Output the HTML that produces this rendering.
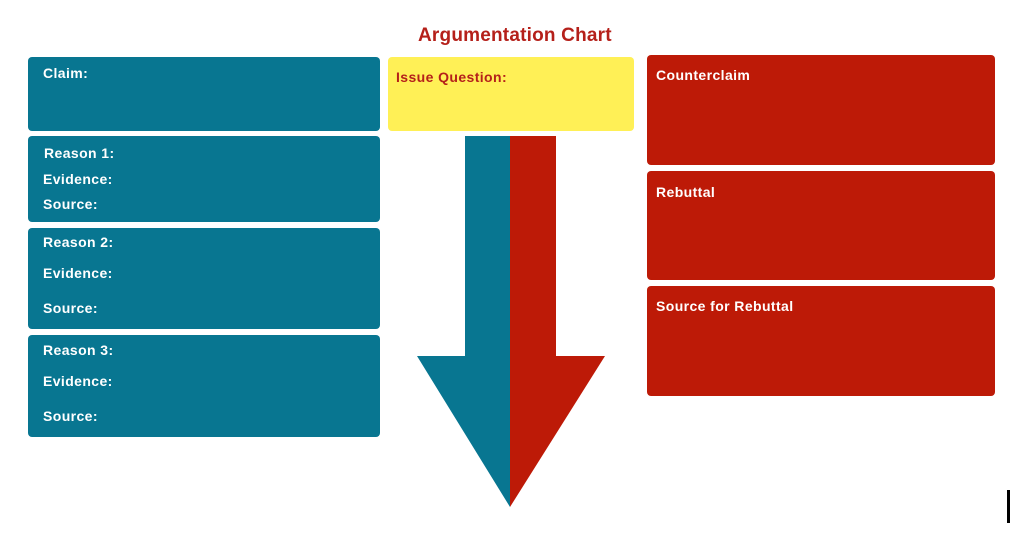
<!DOCTYPE html>
<html><head><style>
body{margin:0;width:1010px;height:541px;background:#fff;position:relative;overflow:hidden;font-family:"Liberation Sans",sans-serif;font-weight:bold}
.b{position:absolute;border-radius:4px}
.bl{background:#087691}
.rd{background:#bd1a07}
.t{position:absolute;font-size:14px;letter-spacing:0.4px;color:#fff;white-space:nowrap;line-height:1}
</style></head><body>
<div class="t" style="left:418px;top:26px;font-size:19px;letter-spacing:0.2px;color:#b5201a">Argumentation Chart</div>
<div class="b bl" style="left:28px;top:57px;width:352px;height:74px"></div>
<div class="b bl" style="left:28px;top:136px;width:352px;height:86px"></div>
<div class="b bl" style="left:28px;top:228px;width:352px;height:101px"></div>
<div class="b bl" style="left:28px;top:335px;width:352px;height:102px"></div>
<div class="b" style="left:388px;top:57px;width:246px;height:74px;background:#fff056"></div>
<div class="b rd" style="left:647px;top:55px;width:348px;height:110px"></div>
<div class="b rd" style="left:647px;top:171px;width:348px;height:109px"></div>
<div class="b rd" style="left:647px;top:286px;width:348px;height:110px"></div>
<svg style="position:absolute;left:0;top:0" width="1010" height="541">
<polygon points="465,136 510,136 510,507 417,356 465,356" fill="#087691"/>
<polygon points="510,136 556,136 556,356 605,356 510,507" fill="#bd1a07"/>
<rect x="1007" y="490" width="3" height="33" fill="#000"/>
</svg>
<div class="t" style="left:43px;top:66px">Claim:</div>
<div class="t" style="left:396px;top:70px;color:#b5201a">Issue Question:</div>
<div class="t" style="left:44px;top:146px">Reason 1:</div>
<div class="t" style="left:43px;top:172px">Evidence:</div>
<div class="t" style="left:43px;top:197px">Source:</div>
<div class="t" style="left:43px;top:235px">Reason 2:</div>
<div class="t" style="left:43px;top:266px">Evidence:</div>
<div class="t" style="left:43px;top:301px">Source:</div>
<div class="t" style="left:43px;top:343px">Reason 3:</div>
<div class="t" style="left:43px;top:374px">Evidence:</div>
<div class="t" style="left:43px;top:409px">Source:</div>
<div class="t" style="left:656px;top:68px">Counterclaim</div>
<div class="t" style="left:656px;top:185px">Rebuttal</div>
<div class="t" style="left:656px;top:299px">Source for Rebuttal</div>
</body></html>
